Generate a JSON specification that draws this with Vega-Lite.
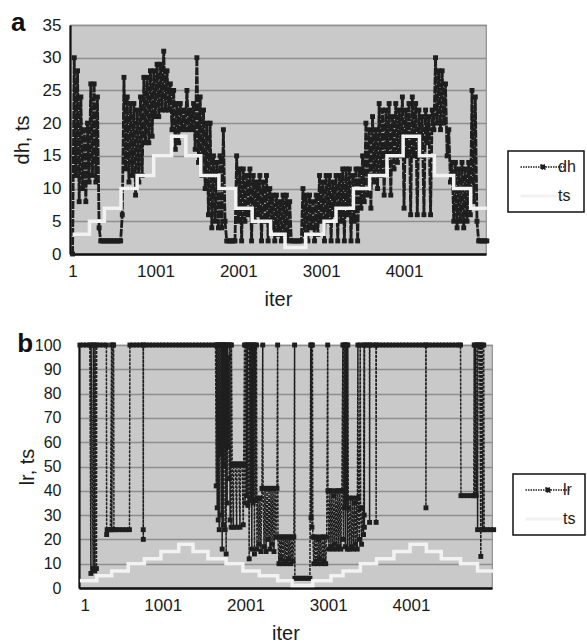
{
"$schema": "https://vega.github.io/schema/vega-lite/v6.json",
"background": "white",
"padding": {"left": 4, "top": 9, "right": 0, "bottom": 0},
"config": {
  "font": "Liberation Sans",
  "view": {"stroke": "transparent"},
  "axis": {"labelFont": "Liberation Sans", "titleFont": "Liberation Sans", "labelColor": "#1a1a1a", "titleColor": "#1a1a1a", "titleFontWeight": "normal", "labelFontSize": 17, "titleFontSize": 20, "domainColor": "#111111", "ticks": false, "labelOverlap": false},
  "axisY": {"grid": true, "gridColor": "#8e8e8e", "gridWidth": 1.4, "domainWidth": 2.2},
  "axisX": {"grid": false, "domainWidth": 2.5, "labelPadding": 9, "titlePadding": 10},
  "title": {"font": "Liberation Sans", "fontSize": 26, "fontWeight": "bold", "anchor": "start", "frame": "bounds", "color": "#111111", "offset": 0},
  "legend": {"title": null, "orient": "none", "strokeColor": "#111111", "fillColor": "white", "padding": 8, "labelFont": "Liberation Sans", "labelFontSize": 16, "labelColor": "#1a1a1a", "symbolSize": 2025, "symbolOffset": 19, "rowPadding": 13, "labelOffset": 7}
},
"datasets": {
  "dhA": [
    {"iter":1,"v":0},{"iter":21,"v":30},{"iter":41,"v":12},{"iter":61,"v":28},{"iter":81,"v":8},{"iter":101,"v":24},{"iter":121,"v":10},{"iter":141,"v":19},{"iter":161,"v":8},{"iter":181,"v":20},
    {"iter":201,"v":11},{"iter":221,"v":26},{"iter":241,"v":12},{"iter":261,"v":26},{"iter":281,"v":11},{"iter":301,"v":24},{"iter":321,"v":4},{"iter":341,"v":2},{"iter":361,"v":2},{"iter":381,"v":2},
    {"iter":401,"v":2},{"iter":421,"v":2},{"iter":441,"v":2},{"iter":461,"v":2},{"iter":481,"v":2},{"iter":501,"v":2},{"iter":521,"v":2},{"iter":541,"v":2},{"iter":561,"v":2},{"iter":581,"v":2},
    {"iter":601,"v":6},{"iter":621,"v":27},{"iter":641,"v":13},{"iter":661,"v":24},{"iter":681,"v":11},{"iter":701,"v":23},{"iter":721,"v":12},{"iter":741,"v":23},{"iter":761,"v":9},{"iter":781,"v":22},
    {"iter":801,"v":11},{"iter":821,"v":24},{"iter":841,"v":12},{"iter":861,"v":27},{"iter":881,"v":17},{"iter":901,"v":27},{"iter":921,"v":17},{"iter":941,"v":28},{"iter":961,"v":18},{"iter":981,"v":28},
    {"iter":1001,"v":21},{"iter":1021,"v":29},{"iter":1041,"v":21},{"iter":1061,"v":29},{"iter":1081,"v":22},{"iter":1101,"v":31},{"iter":1121,"v":22},{"iter":1141,"v":28},{"iter":1161,"v":22},{"iter":1181,"v":26},
    {"iter":1201,"v":19},{"iter":1221,"v":25},{"iter":1241,"v":16},{"iter":1261,"v":23},{"iter":1281,"v":17},{"iter":1301,"v":23},{"iter":1321,"v":19},{"iter":1341,"v":22},{"iter":1361,"v":19},{"iter":1381,"v":25},
    {"iter":1401,"v":19},{"iter":1421,"v":22},{"iter":1441,"v":19},{"iter":1461,"v":23},{"iter":1481,"v":16},{"iter":1501,"v":30},{"iter":1521,"v":14},{"iter":1541,"v":24},{"iter":1561,"v":12},{"iter":1581,"v":22},
    {"iter":1601,"v":10},{"iter":1621,"v":20},{"iter":1641,"v":6},{"iter":1661,"v":20},{"iter":1681,"v":4},{"iter":1701,"v":15},{"iter":1721,"v":5},{"iter":1741,"v":14},{"iter":1761,"v":4},{"iter":1781,"v":15},
    {"iter":1801,"v":4},{"iter":1821,"v":19},{"iter":1841,"v":5},{"iter":1861,"v":2},{"iter":1881,"v":2},{"iter":1901,"v":2},{"iter":1921,"v":2},{"iter":1941,"v":2},{"iter":1961,"v":2},{"iter":1981,"v":15},
    {"iter":2001,"v":5},{"iter":2021,"v":13},{"iter":2041,"v":2},{"iter":2061,"v":13},{"iter":2081,"v":5},{"iter":2101,"v":12},{"iter":2121,"v":6},{"iter":2141,"v":13},{"iter":2161,"v":2},{"iter":2181,"v":12},
    {"iter":2201,"v":5},{"iter":2221,"v":11},{"iter":2241,"v":6},{"iter":2261,"v":12},{"iter":2281,"v":2},{"iter":2301,"v":11},{"iter":2321,"v":5},{"iter":2341,"v":12},{"iter":2361,"v":2},{"iter":2381,"v":10},
    {"iter":2401,"v":4},{"iter":2421,"v":9},{"iter":2441,"v":2},{"iter":2461,"v":9},{"iter":2481,"v":3},{"iter":2501,"v":8},{"iter":2521,"v":2},{"iter":2541,"v":9},{"iter":2561,"v":3},{"iter":2581,"v":9},
    {"iter":2601,"v":2},{"iter":2621,"v":8},{"iter":2641,"v":2},{"iter":2661,"v":2},{"iter":2681,"v":2},{"iter":2701,"v":2},{"iter":2721,"v":2},{"iter":2741,"v":2},{"iter":2761,"v":2},{"iter":2781,"v":10},
    {"iter":2801,"v":3},{"iter":2821,"v":9},{"iter":2841,"v":2},{"iter":2861,"v":9},{"iter":2881,"v":4},{"iter":2901,"v":8},{"iter":2921,"v":2},{"iter":2941,"v":9},{"iter":2961,"v":3},{"iter":2981,"v":12},
    {"iter":3001,"v":5},{"iter":3021,"v":11},{"iter":3041,"v":2},{"iter":3061,"v":12},{"iter":3081,"v":5},{"iter":3101,"v":12},{"iter":3121,"v":2},{"iter":3141,"v":11},{"iter":3161,"v":6},{"iter":3181,"v":12},
    {"iter":3201,"v":2},{"iter":3221,"v":12},{"iter":3241,"v":5},{"iter":3261,"v":13},{"iter":3281,"v":2},{"iter":3301,"v":13},{"iter":3321,"v":6},{"iter":3341,"v":13},{"iter":3361,"v":2},{"iter":3381,"v":12},
    {"iter":3401,"v":5},{"iter":3421,"v":13},{"iter":3441,"v":2},{"iter":3461,"v":13},{"iter":3481,"v":7},{"iter":3501,"v":15},{"iter":3521,"v":8},{"iter":3541,"v":20},{"iter":3561,"v":9},{"iter":3581,"v":19},
    {"iter":3601,"v":7},{"iter":3621,"v":21},{"iter":3641,"v":11},{"iter":3661,"v":19},{"iter":3681,"v":10},{"iter":3701,"v":23},{"iter":3721,"v":12},{"iter":3741,"v":22},{"iter":3761,"v":9},{"iter":3781,"v":22},
    {"iter":3801,"v":14},{"iter":3821,"v":23},{"iter":3841,"v":9},{"iter":3861,"v":21},{"iter":3881,"v":13},{"iter":3901,"v":23},{"iter":3921,"v":14},{"iter":3941,"v":22},{"iter":3961,"v":15},{"iter":3981,"v":24},
    {"iter":4001,"v":7},{"iter":4021,"v":22},{"iter":4041,"v":15},{"iter":4061,"v":23},{"iter":4081,"v":6},{"iter":4101,"v":24},{"iter":4121,"v":15},{"iter":4141,"v":23},{"iter":4161,"v":6},{"iter":4181,"v":22},
    {"iter":4201,"v":15},{"iter":4221,"v":21},{"iter":4241,"v":6},{"iter":4261,"v":22},{"iter":4281,"v":17},{"iter":4301,"v":21},{"iter":4321,"v":6},{"iter":4341,"v":22},{"iter":4361,"v":19},{"iter":4381,"v":30},
    {"iter":4401,"v":20},{"iter":4421,"v":28},{"iter":4441,"v":19},{"iter":4461,"v":28},{"iter":4481,"v":20},{"iter":4501,"v":26},{"iter":4521,"v":15},{"iter":4541,"v":19},{"iter":4561,"v":11},{"iter":4581,"v":14},
    {"iter":4601,"v":5},{"iter":4621,"v":14},{"iter":4641,"v":4},{"iter":4661,"v":13},{"iter":4681,"v":5},{"iter":4701,"v":14},{"iter":4721,"v":4},{"iter":4741,"v":13},{"iter":4761,"v":5},{"iter":4781,"v":14},
    {"iter":4801,"v":6},{"iter":4821,"v":25},{"iter":4841,"v":8},{"iter":4861,"v":24},{"iter":4881,"v":5},{"iter":4901,"v":2},{"iter":4921,"v":2},{"iter":4941,"v":2},{"iter":4961,"v":2},{"iter":4981,"v":2},{"iter":5000,"v":2}
  ],
  "ts": [
    {"iter":1,"v":3},{"iter":205,"v":5},{"iter":385,"v":7},{"iter":585,"v":10},{"iter":780,"v":12},{"iter":980,"v":15},{"iter":1195,"v":18},{"iter":1368,"v":15},{"iter":1548,"v":12},{"iter":1767,"v":10},
    {"iter":1970,"v":7},{"iter":2168,"v":5},{"iter":2390,"v":3},{"iter":2565,"v":1},{"iter":2815,"v":3},{"iter":3035,"v":5},{"iter":3180,"v":7},{"iter":3390,"v":10},{"iter":3585,"v":12},{"iter":3795,"v":15},
    {"iter":3990,"v":18},{"iter":4187,"v":15},{"iter":4367,"v":12},{"iter":4600,"v":10},{"iter":4805,"v":7},{"iter":5000,"v":7}
  ],
  "lrB": [
    {"iter":1,"v":100},{"iter":41,"v":100},{"iter":81,"v":100},{"iter":121,"v":100},{"iter":134,"v":6},{"iter":136,"v":100},{"iter":161,"v":8},{"iter":163,"v":100},{"iter":181,"v":7},{"iter":183,"v":100},
    {"iter":201,"v":8},{"iter":203,"v":100},{"iter":241,"v":100},{"iter":281,"v":100},{"iter":321,"v":100},{"iter":324,"v":22},{"iter":330,"v":24},{"iter":350,"v":24},{"iter":370,"v":24},{"iter":384,"v":100},
    {"iter":386,"v":24},{"iter":400,"v":100},{"iter":408,"v":100},{"iter":412,"v":24},{"iter":440,"v":24},{"iter":480,"v":24},{"iter":520,"v":24},{"iter":560,"v":24},{"iter":600,"v":24},{"iter":605,"v":100},
    {"iter":645,"v":100},{"iter":685,"v":100},{"iter":725,"v":100},{"iter":765,"v":100},{"iter":766,"v":24},{"iter":767,"v":20},{"iter":768,"v":100},{"iter":800,"v":100},{"iter":840,"v":100},{"iter":880,"v":100},
    {"iter":920,"v":100},{"iter":960,"v":100},{"iter":1000,"v":100},{"iter":1040,"v":100},{"iter":1080,"v":100},{"iter":1120,"v":100},{"iter":1160,"v":100},{"iter":1200,"v":100},{"iter":1240,"v":100},{"iter":1280,"v":100},
    {"iter":1320,"v":100},{"iter":1360,"v":100},{"iter":1400,"v":100},{"iter":1440,"v":100},{"iter":1480,"v":100},{"iter":1520,"v":100},{"iter":1560,"v":100},{"iter":1600,"v":100},{"iter":1640,"v":100},
    {"iter":1648,"v":42},{"iter":1652,"v":100},{"iter":1660,"v":33},{"iter":1664,"v":100},{"iter":1672,"v":28},{"iter":1676,"v":100},{"iter":1684,"v":24},{"iter":1688,"v":100},{"iter":1696,"v":55},{"iter":1700,"v":100},
    {"iter":1708,"v":30},{"iter":1712,"v":100},{"iter":1720,"v":16},{"iter":1724,"v":100},{"iter":1732,"v":26},{"iter":1736,"v":100},{"iter":1744,"v":50},{"iter":1748,"v":100},{"iter":1756,"v":24},{"iter":1760,"v":100},
    {"iter":1768,"v":14},{"iter":1772,"v":100},{"iter":1780,"v":35},{"iter":1784,"v":100},{"iter":1792,"v":58},{"iter":1796,"v":95},{"iter":1804,"v":45},{"iter":1808,"v":100},{"iter":1816,"v":28},{"iter":1820,"v":100},
    {"iter":1828,"v":25},{"iter":1832,"v":100},{"iter":1840,"v":51},{"iter":1855,"v":25},{"iter":1860,"v":51},{"iter":1880,"v":51},{"iter":1895,"v":25},{"iter":1900,"v":51},{"iter":1920,"v":51},{"iter":1935,"v":25},
    {"iter":1940,"v":51},{"iter":1960,"v":51},{"iter":1975,"v":26},{"iter":1980,"v":51},{"iter":1990,"v":100},{"iter":1998,"v":35},{"iter":2006,"v":100},{"iter":2014,"v":38},{"iter":2022,"v":100},{"iter":2030,"v":34},
    {"iter":2038,"v":100},{"iter":2046,"v":12},{"iter":2054,"v":100},{"iter":2062,"v":36},{"iter":2070,"v":100},{"iter":2078,"v":16},{"iter":2086,"v":100},{"iter":2094,"v":35},{"iter":2102,"v":100},{"iter":2110,"v":14},
    {"iter":2118,"v":100},{"iter":2126,"v":36},{"iter":2134,"v":100},{"iter":2140,"v":16},{"iter":2152,"v":37},{"iter":2164,"v":18},{"iter":2176,"v":37},{"iter":2188,"v":15},{"iter":2200,"v":41},{"iter":2210,"v":100},
    {"iter":2214,"v":41},{"iter":2226,"v":17},{"iter":2238,"v":41},{"iter":2250,"v":15},{"iter":2262,"v":41},{"iter":2274,"v":20},{"iter":2286,"v":41},{"iter":2298,"v":16},{"iter":2310,"v":41},{"iter":2322,"v":18},
    {"iter":2334,"v":41},{"iter":2346,"v":15},{"iter":2358,"v":41},{"iter":2370,"v":21},{"iter":2382,"v":41},{"iter":2390,"v":100},{"iter":2394,"v":21},{"iter":2406,"v":10},{"iter":2418,"v":21},{"iter":2430,"v":12},
    {"iter":2442,"v":21},{"iter":2454,"v":10},{"iter":2466,"v":21},{"iter":2478,"v":11},{"iter":2490,"v":21},{"iter":2502,"v":10},{"iter":2514,"v":21},{"iter":2526,"v":12},{"iter":2538,"v":21},{"iter":2550,"v":10},
    {"iter":2562,"v":21},{"iter":2574,"v":11},{"iter":2586,"v":21},{"iter":2595,"v":100},{"iter":2598,"v":4},{"iter":2630,"v":4},{"iter":2660,"v":4},{"iter":2690,"v":4},{"iter":2720,"v":4},{"iter":2750,"v":4},
    {"iter":2780,"v":4},{"iter":2790,"v":100},{"iter":2794,"v":29},{"iter":2798,"v":100},{"iter":2804,"v":25},{"iter":2810,"v":100},{"iter":2815,"v":21},{"iter":2827,"v":10},{"iter":2839,"v":21},{"iter":2851,"v":11},
    {"iter":2863,"v":21},{"iter":2875,"v":10},{"iter":2887,"v":20},{"iter":2899,"v":12},{"iter":2911,"v":21},{"iter":2923,"v":10},{"iter":2935,"v":21},{"iter":2947,"v":11},{"iter":2959,"v":21},{"iter":2971,"v":10},
    {"iter":2983,"v":21},{"iter":2995,"v":100},{"iter":2998,"v":40},{"iter":3010,"v":16},{"iter":3022,"v":40},{"iter":3034,"v":17},{"iter":3046,"v":40},{"iter":3058,"v":16},{"iter":3070,"v":38},{"iter":3082,"v":18},
    {"iter":3094,"v":40},{"iter":3106,"v":16},{"iter":3118,"v":40},{"iter":3130,"v":17},{"iter":3142,"v":40},{"iter":3154,"v":16},{"iter":3166,"v":40},{"iter":3178,"v":100},{"iter":3184,"v":20},{"iter":3190,"v":100},
    {"iter":3196,"v":33},{"iter":3202,"v":100},{"iter":3208,"v":17},{"iter":3214,"v":100},{"iter":3220,"v":35},{"iter":3226,"v":100},{"iter":3232,"v":16},{"iter":3238,"v":100},{"iter":3244,"v":33},{"iter":3256,"v":16},
    {"iter":3268,"v":37},{"iter":3280,"v":17},{"iter":3292,"v":37},{"iter":3304,"v":16},{"iter":3316,"v":35},{"iter":3328,"v":18},{"iter":3340,"v":37},{"iter":3352,"v":16},{"iter":3360,"v":100},{"iter":3364,"v":37},
    {"iter":3376,"v":20},{"iter":3388,"v":100},{"iter":3392,"v":33},{"iter":3404,"v":18},{"iter":3416,"v":33},{"iter":3428,"v":22},{"iter":3434,"v":100},{"iter":3436,"v":30},{"iter":3438,"v":25},{"iter":3440,"v":100},
    {"iter":3470,"v":100},{"iter":3500,"v":100},{"iter":3501,"v":27},{"iter":3503,"v":100},{"iter":3540,"v":100},{"iter":3578,"v":100},{"iter":3580,"v":27},{"iter":3582,"v":100},{"iter":3620,"v":100},{"iter":3660,"v":100},
    {"iter":3700,"v":100},{"iter":3740,"v":100},{"iter":3780,"v":100},{"iter":3820,"v":100},{"iter":3860,"v":100},{"iter":3900,"v":100},{"iter":3940,"v":100},{"iter":3980,"v":100},{"iter":4020,"v":100},{"iter":4060,"v":100},
    {"iter":4100,"v":100},{"iter":4140,"v":100},{"iter":4180,"v":100},{"iter":4182,"v":33},{"iter":4184,"v":100},{"iter":4220,"v":100},{"iter":4260,"v":100},{"iter":4300,"v":100},{"iter":4340,"v":100},{"iter":4380,"v":100},
    {"iter":4420,"v":100},{"iter":4460,"v":100},{"iter":4500,"v":100},{"iter":4540,"v":100},{"iter":4580,"v":100},{"iter":4600,"v":100},{"iter":4605,"v":38},{"iter":4640,"v":38},{"iter":4680,"v":38},{"iter":4720,"v":38},
    {"iter":4760,"v":38},{"iter":4765,"v":100},{"iter":4772,"v":38},{"iter":4780,"v":100},{"iter":4790,"v":38},{"iter":4800,"v":100},{"iter":4806,"v":24},{"iter":4812,"v":100},{"iter":4830,"v":100},{"iter":4845,"v":13},
    {"iter":4848,"v":100},{"iter":4862,"v":100},{"iter":4866,"v":24},{"iter":4880,"v":100},{"iter":4885,"v":24},{"iter":4920,"v":24},{"iter":4960,"v":24},{"iter":5000,"v":24}
  ],
  "spacer": [{"k": 0}]
},
"vconcat": [
  {"hconcat": [
    {"width": 6, "height": 1, "data": {"name": "spacer"}, "mark": {"type": "point", "opacity": 0, "size": 0}},
    {
      "width": 416, "height": 229,
      "view": {"fill": "#c9c9c9", "stroke": "#8e8e8e", "strokeWidth": 1.2},
      "title": {"text": "a", "dx": -1, "dy": 24},
      "encoding": {
        "x": {"field": "iter", "type": "quantitative", "scale": {"domain": [-30, 4990], "nice": false, "zero": false}, "axis": {"values": [1, 1001, 2001, 3001, 4001], "format": "d", "title": "iter"}},
        "y": {"field": "v", "type": "quantitative", "scale": {"domain": [0, 35], "nice": false}, "axis": {"values": [0, 5, 10, 15, 20, 25, 30, 35], "title": "dh, ts", "labelPadding": 9, "titlePadding": 10}}
      },
      "layer": [
        {
          "data": {"name": "dhA"},
          "mark": {"type": "line", "strokeWidth": 2.8, "strokeDash": [8, 1]},
          "encoding": {
            "color": {"datum": "dh", "type": "nominal", "scale": {"domain": ["dh", "ts"], "range": ["#1e1e1e", "#f2f2f2"]},
              "legend": {"legendX": 504, "legendY": 126,
                "encode": {
                  "legend": {"update": {"strokeWidth": {"value": 1.5}}},
                  "symbols": {"update": {
                    "shape": {"signal": "datum.value === 'ts' ? 'M-1,0H1' : 'M-1,0H1M-0.09,-0.09H0.09V0.09H-0.09Z'"},
                    "strokeDash": {"signal": "datum.value === 'ts' ? [] : [1.5, 1]"},
                    "strokeWidth": {"signal": "datum.value === 'ts' ? 3 : 1.5"},
                    "fill": {"signal": "datum.value === 'ts' ? 'transparent' : '#1e1e1e'"}
                  }}
                }}}
          }
        },
        {
          "data": {"name": "dhA"},
          "mark": {"type": "square", "size": 24, "color": "#1e1e1e", "opacity": 1}
        },
        {
          "data": {"name": "ts"},
          "mark": {"type": "line", "interpolate": "step-after", "strokeWidth": 3.5},
          "encoding": {"color": {"datum": "ts", "type": "nominal"}}
        }
      ]
    }
  ], "spacing": 0},
  {"hconcat": [
    {"width": 12, "height": 1, "data": {"name": "spacer"}, "mark": {"type": "point", "opacity": 0, "size": 0}},
    {
      "width": 413, "height": 243,
      "view": {"fill": "#c9c9c9", "stroke": "#8e8e8e", "strokeWidth": 1.2},
      "title": {"text": "b", "dx": 0, "dy": 24},
      "encoding": {
        "x": {"field": "iter", "type": "quantitative", "scale": {"domain": [-10, 4980], "nice": false, "zero": false}, "axis": {"values": [1, 1001, 2001, 3001, 4001], "format": "d", "title": "iter"}},
        "y": {"field": "v", "type": "quantitative", "scale": {"domain": [0, 100], "nice": false}, "axis": {"values": [0, 10, 20, 30, 40, 50, 60, 70, 80, 90, 100], "title": "lr, ts", "labelPadding": 18, "titlePadding": -3, "labelFontSize": 16}}
      },
      "layer": [
        {
          "data": {"name": "lrB"},
          "mark": {"type": "line", "strokeWidth": 1.5, "strokeDash": [3, 1]},
          "encoding": {
            "color": {"datum": "lr", "type": "nominal", "scale": {"domain": ["lr", "ts"], "range": ["#1e1e1e", "#f2f2f2"]},
              "legend": {"legendX": 509, "legendY": 129,
                "encode": {
                  "legend": {"update": {"strokeWidth": {"value": 1.5}}},
                  "symbols": {"update": {
                    "shape": {"signal": "datum.value === 'ts' ? 'M-1,0H1' : 'M-1,0H1M-0.09,-0.09H0.09V0.09H-0.09Z'"},
                    "strokeDash": {"signal": "datum.value === 'ts' ? [] : [1.5, 1]"},
                    "strokeWidth": {"signal": "datum.value === 'ts' ? 3 : 1.5"},
                    "fill": {"signal": "datum.value === 'ts' ? 'transparent' : '#1e1e1e'"}
                  }}
                }}}
          }
        },
        {
          "data": {"name": "lrB"},
          "mark": {"type": "square", "size": 24, "color": "#1e1e1e", "opacity": 1}
        },
        {
          "data": {"name": "ts"},
          "mark": {"type": "line", "interpolate": "step-after", "strokeWidth": 3.5},
          "encoding": {"color": {"datum": "ts", "type": "nominal"}}
        }
      ]
    }
  ], "spacing": 0}
],
"spacing": 20,
"resolve": {"scale": {"color": "independent"}, "legend": {"color": "independent"}}
}
